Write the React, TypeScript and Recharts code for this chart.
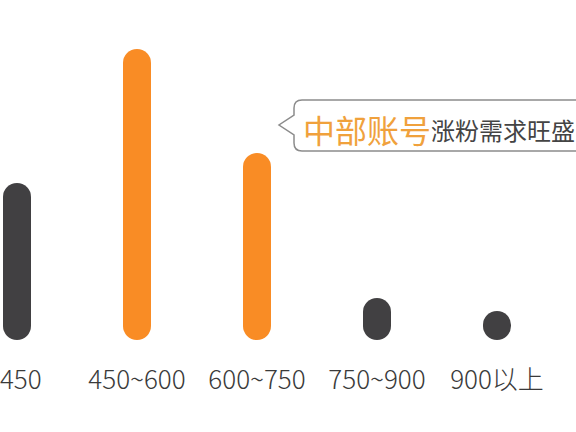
import React from "react";
import { BarChart, Bar, XAxis, YAxis, Cell } from "recharts";

const categories = ["300~450", "450~600", "600~750", "750~900", "900以上"];
const shares = [15.7, 29.1, 18.7, 4.2, 2.9];
const highlighted = [false, true, true, false, false];

const calloutStrong = "中部账号";
const calloutRest = "涨粉需求旺盛";

const DARK = "#414042";
const ORANGE = "#F98C25";
const FONT = "'Noto Sans CJK SC', 'Noto Sans', sans-serif";

const data = categories.map((name, i) => ({
  name,
  value: shares[i],
  hot: highlighted[i],
}));

function RangeTick(props: any) {
  const { x, y, payload, index } = props;
  // the first label sits a bit left of its bar in the original
  const shift = index === 0 ? -24 : 0;
  return (
    <text
      x={x + shift}
      y={y + 49}
      textAnchor="middle"
      fontFamily={FONT}
      fontWeight={300}
      fontSize={26}
      fill="#3a3a3a"
    >
      {payload.value}
    </text>
  );
}

function Callout() {
  return (
    <svg
      width={576}
      height={432}
      style={{ position: "absolute", left: 0, top: 0, pointerEvents: "none" }}
    >
      <path
        d="M 302 100 L 600 100 L 600 151 L 302 151 Q 294 151 294 143 L 294 135 L 279 125 L 294 115 L 294 108 Q 294 100 302 100 Z"
        fill="#fff"
        stroke="#8c8c8c"
        strokeWidth={1.5}
      />
      <text x={303} y={129} dominantBaseline="central" fontFamily={FONT}>
        <tspan fontSize={32} fill="#F0A13C">
          {calloutStrong}
        </tspan>
        <tspan fontSize={24} fill="#444">
          {calloutRest}
        </tspan>
      </text>
    </svg>
  );
}

export default function App() {
  return (
    <div
      style={{
        position: "fixed",
        left: 0,
        top: 0,
        width: 576,
        height: 432,
        overflow: "hidden",
        background: "#fff",
      }}
    >
      <div style={{ position: "absolute", left: -43, top: 0 }}>
        <BarChart
          width={600}
          height={432}
          data={data}
          margin={{ top: 40, right: 0, bottom: 42, left: 0 }}
          barCategoryGap={0}
        >
          <YAxis hide domain={[0, 30]} />
          <XAxis
            dataKey="name"
            axisLine={false}
            tickLine={false}
            tickSize={0}
            tickMargin={0}
            height={50}
            interval={0}
            tick={<RangeTick />}
          />
          <Bar
            dataKey="value"
            barSize={28}
            radius={[14, 14, 14, 14]}
            isAnimationActive={false}
          >
            {data.map((d) => (
              <Cell key={d.name} fill={d.hot ? ORANGE : DARK} />
            ))}
          </Bar>
        </BarChart>
      </div>
      <Callout />
    </div>
  );
}
